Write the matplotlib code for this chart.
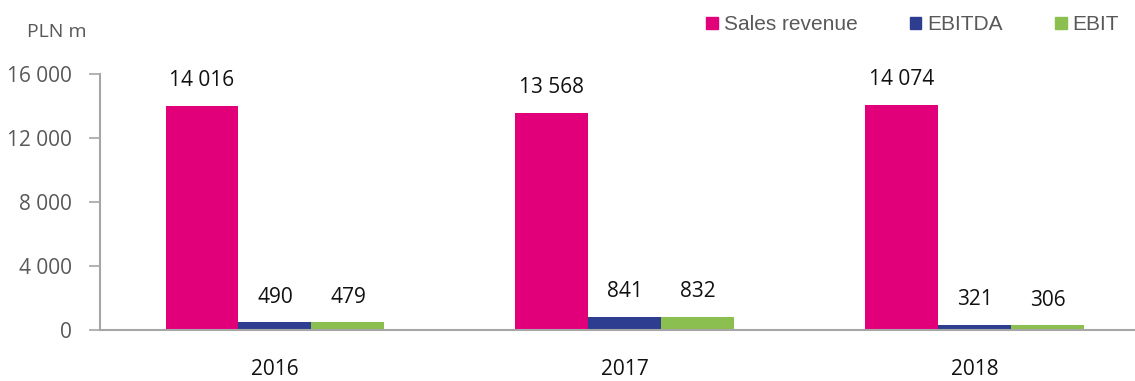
import matplotlib
matplotlib.use("Agg")
import matplotlib.pyplot as plt
import numpy as np
from matplotlib.patches import Patch

years = ["2016", "2017", "2018"]
series_names = ["Sales revenue", "EBITDA", "EBIT"]
sales = [14016, 13568, 14074]
ebitda = [490, 841, 321]
ebit = [479, 832, 306]
yticks = [0, 4000, 8000, 12000, 16000]
colors = ["#E2007A", "#2E3D8F", "#8BBF4F"]

def fmt(v):
    return f"{v:,}".replace(",", " ")

fig = plt.figure(figsize=(11.35, 3.81), dpi=100)
ax = fig.add_axes([100/1135, 51/381, 1050/1135, 256/381])

x = np.arange(len(years))
w = 73/350
for i, (vals, c) in enumerate(zip([sales, ebitda, ebit], colors)):
    bars = ax.bar(x + (i-1)*w, vals, width=w, color=c, label=series_names[i])
    for b, v in zip(bars, vals):
        ax.annotate(fmt(v), (b.get_x()+b.get_width()/2, v), xytext=(0, 10.5),
                    textcoords="offset points", ha="center", va="bottom",
                    fontsize=15, color="#111111", family="Open Sans")

ax.set_xlim(-0.5, 2.5)
ax.set_ylim(0, 16000)
ax.set_yticks(yticks)
ax.set_yticklabels([fmt(v) for v in yticks], fontsize=15, color="#595959", family="Open Sans")
ax.set_xticks(x)
ax.set_xticklabels(years, fontsize=15, color="#111111", family="Open Sans")
ax.tick_params(axis="x", length=0, pad=21)
ax.tick_params(axis="y", length=8, width=1.2, color="#A6A6A6", pad=12)
for s in ["top", "right"]:
    ax.spines[s].set_visible(False)
for s in ["left", "bottom"]:
    ax.spines[s].set_color("#A6A6A6")
    ax.spines[s].set_linewidth(1.5)

fig.text(27/1135, 1-32/381, "PLN m", fontsize=14, color="#595959", va="center", ha="left", family="Open Sans")

handles = [Patch(color=c) for c in colors]
fig.legend(handles, series_names, loc="center right", bbox_to_anchor=(1138/1135, 1-25/381),
           ncol=3, frameon=False, handlelength=0.55, handleheight=0.55, handletextpad=0.3,
           columnspacing=2.5, prop={"family": "Liberation Sans", "size": 15}, labelcolor="#595959")

fig.savefig("out.png", dpi=100)
